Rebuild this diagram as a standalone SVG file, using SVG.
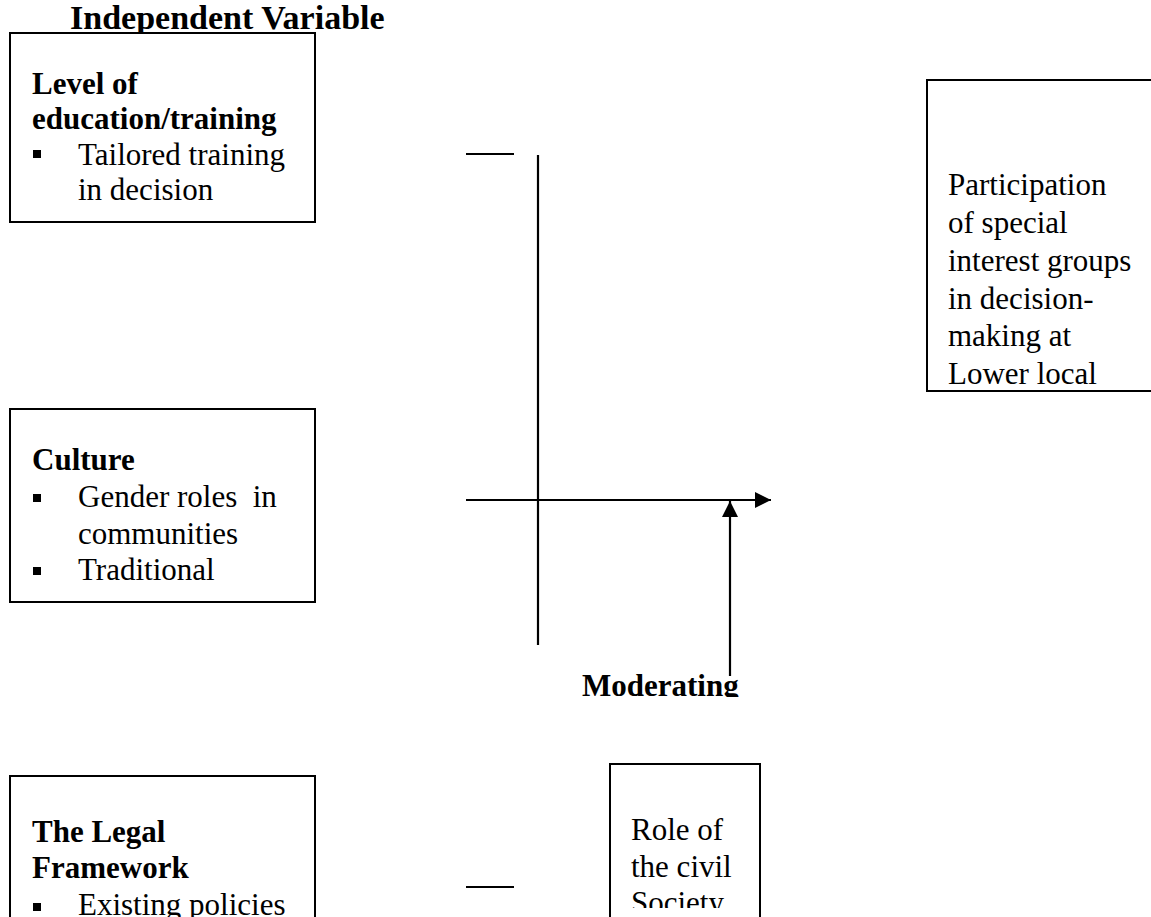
<svg xmlns="http://www.w3.org/2000/svg" width="1151" height="917" viewBox="0 0 1151 917">
<defs>
<style>
.box{fill:#fff;stroke:#000;stroke-width:2}
.t{font-family:"Liberation Serif","Times New Roman",serif;font-size:31px;fill:#000}
.b{font-weight:bold}
.ttl{font-size:34px}
.ln{stroke:#000;stroke-width:2.2;fill:none}
.bul{fill:#000}
</style>
<marker id="ah" viewBox="0 0 16 16" refX="16" refY="8" markerWidth="16" markerHeight="16" markerUnits="userSpaceOnUse" orient="auto">
<path d="M0,0 L16,8 L0,16 Z" fill="#000"/>
</marker>
<clipPath id="clipTitle"><rect x="0" y="0" width="1151" height="32"/></clipPath>
<clipPath id="clipMod"><rect x="0" y="0" width="1151" height="697"/></clipPath>
<clipPath id="clipRole"><rect x="600" y="760" width="170" height="148"/></clipPath>
</defs>
<rect width="1151" height="917" fill="#fff"/>

<g id="title">
<text class="t b ttl" x="70" y="29" clip-path="url(#clipTitle)">Independent Variable</text>
</g>

<g id="node-education">
<rect class="box" x="10" y="33" width="305" height="189"/>
<text class="t b" x="32" y="94">Level of</text>
<text class="t b" x="32" y="129">education/training</text>
<rect class="bul" x="33" y="150" width="8" height="8"/>
<text class="t" x="78" y="165">Tailored training</text>
<text class="t" x="78" y="200">in decision</text>
</g>

<g id="node-culture">
<rect class="box" x="10" y="409" width="305" height="193"/>
<text class="t b" x="32" y="470">Culture</text>
<rect class="bul" x="33" y="494" width="8" height="8"/>
<text class="t" x="78" y="507" xml:space="preserve">Gender roles  in</text>
<text class="t" x="78" y="544">communities</text>
<rect class="bul" x="33" y="567" width="8" height="8"/>
<text class="t" x="78" y="580">Traditional</text>
</g>

<g id="node-legal">
<rect class="box" x="10" y="776" width="305" height="160"/>
<text class="t b" x="32" y="842">The Legal</text>
<text class="t b" x="32" y="878">Framework</text>
<rect class="bul" x="33" y="903" width="8" height="8"/>
<text class="t" x="78" y="915">Existing policies</text>
</g>

<g id="node-participation">
<rect class="box" x="927" y="80" width="240" height="311"/>
<text class="t" x="948" y="195">Participation</text>
<text class="t" x="948" y="233">of special</text>
<text class="t" x="948" y="271">interest groups</text>
<text class="t" x="948" y="309">in decision-</text>
<text class="t" x="948" y="346">making at</text>
<text class="t" x="948" y="384">Lower local</text>
</g>

<g id="node-civil">
<rect class="box" x="610" y="764" width="150" height="170"/>
<g clip-path="url(#clipRole)">
<text class="t" x="631" y="840">Role of</text>
<text class="t" x="631" y="877">the civil</text>
<text class="t" x="631" y="913">Society</text>
</g>
</g>

<g id="label-moderating">
<text class="t b" x="582" y="696" clip-path="url(#clipMod)">Moderating</text>
</g>

<g id="connectors">
<line class="ln" x1="466" y1="154" x2="514" y2="154"/>
<line class="ln" x1="538" y1="155" x2="538" y2="645"/>
<line class="ln" x1="466" y1="500" x2="771" y2="500" marker-end="url(#ah)"/>
<line class="ln" x1="730" y1="676" x2="730" y2="501" marker-end="url(#ah)"/>
<line class="ln" x1="466" y1="887" x2="514" y2="887"/>
</g>
</svg>
